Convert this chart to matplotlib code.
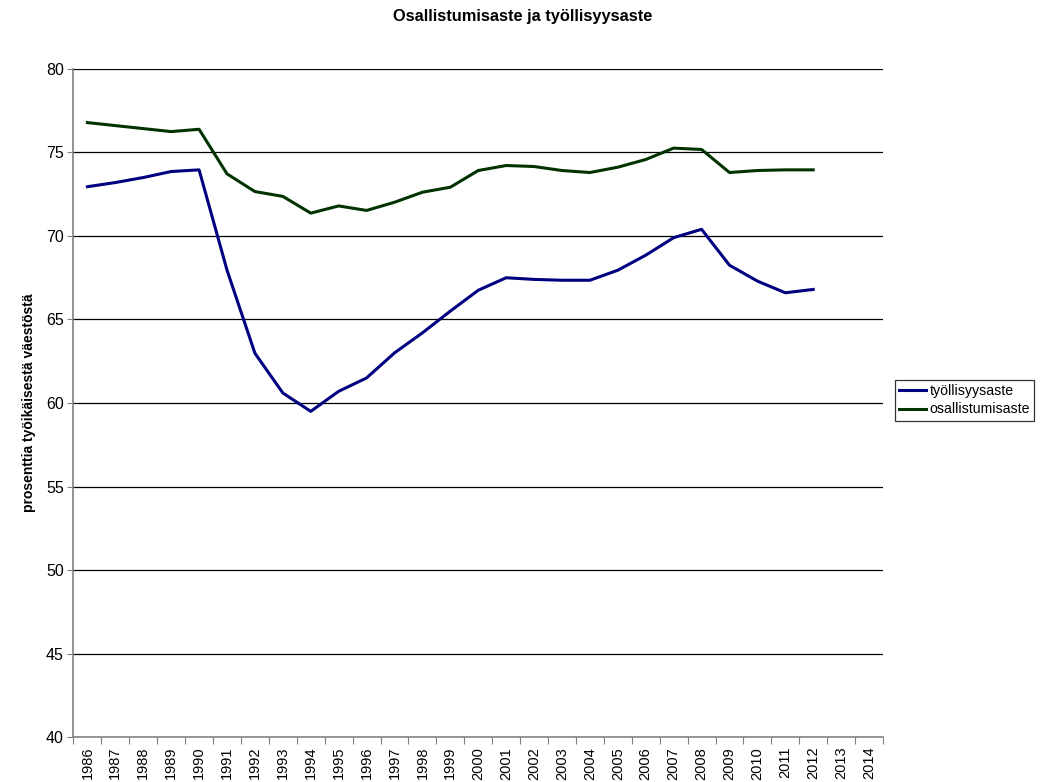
import matplotlib.pyplot as plt
import numpy as np

plt.rcParams['font.family'] = ['Liberation Sans', 'DejaVu Sans']

years = [str(y) for y in range(1986, 2015)]
tyollisyysaste = [72.95, 73.2, 73.5, 73.86, 73.96, 67.96, 62.98, 60.6, 59.5, 60.7,
                  61.5, 63.0, 64.2, 65.5, 66.75, 67.5, 67.4, 67.35, 67.35, 67.95,
                  68.85, 69.9, 70.4, 68.25, 67.3, 66.6, 66.8]
osallistumisaste = [76.79, 76.61, 76.43, 76.25, 76.39, 73.72, 72.66, 72.37, 71.37, 71.8,
                    71.53, 72.02, 72.62, 72.92, 73.92, 74.22, 74.16, 73.92, 73.8, 74.12,
                    74.58, 75.26, 75.18, 73.8, 73.92, 73.96, 73.96]

fig = plt.figure(figsize=(10.45, 7.82), dpi=100)
ax = fig.add_axes([0.0703, 0.0575, 0.7747, 0.8543])

x = np.arange(len(tyollisyysaste))
ax.plot(x, tyollisyysaste, color='#000080', lw=2.2, label='työllisyysaste')
ax.plot(x, osallistumisaste, color='#003300', lw=2.2, label='osallistumisaste')

ax.set_ylim(40, 80)
ax.set_xlim(-0.5, len(years) - 0.5)
ax.set_yticks(range(40, 81, 5))
ax.tick_params(axis='y', labelsize=11.5, length=4, color='#808080', pad=3)

# category ticks at boundaries, labels at centres
ax.set_xticks(np.arange(-0.5, len(years), 1.0))
ax.set_xticklabels([])
ax.tick_params(axis='x', which='major', length=5, color='#808080')
ax.set_xticks(np.arange(len(years)), minor=True)
ax.set_xticklabels(years, minor=True, rotation=90, fontsize=10.5)
ax.tick_params(axis='x', which='minor', length=0, pad=7)

for v in range(45, 81, 5):
    ax.axhline(v, color='black', lw=0.9, zorder=0)

for s in ['top', 'right']:
    ax.spines[s].set_visible(False)
for s in ['left', 'bottom']:
    ax.spines[s].set_color('#808080')
    ax.spines[s].set_linewidth(1.2)

ax.set_ylabel('prosenttia työikäisestä väestöstä', fontsize=10, fontweight='bold', labelpad=7)
fig.suptitle('Osallistumisaste ja työllisyysaste', x=0.5, y=0.988, fontsize=11.8, fontweight='bold')

leg = fig.legend(loc='upper left', bbox_to_anchor=(895 / 1045, 1 - 380 / 782), fontsize=10.2,
                 frameon=True, fancybox=False, handlelength=1.9, handletextpad=0.25,
                 borderpad=0.3, labelspacing=0.3, borderaxespad=0)
leg.get_frame().set_edgecolor('black')
leg.get_frame().set_linewidth(0.9)

plt.savefig('out.png', dpi=100)
